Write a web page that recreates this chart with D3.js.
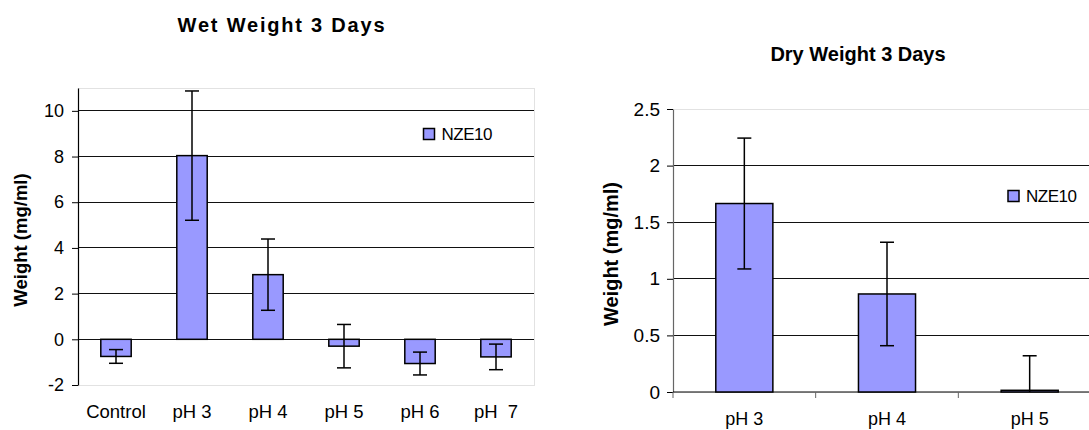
<!DOCTYPE html>
<html>
<head>
<meta charset="utf-8">
<script src="https://cdn.jsdelivr.net/npm/d3@7"></script>
<style>
  html, body { margin: 0; padding: 0; background: #fff; }
  svg { display: block; font-family: "Liberation Sans", Arial, sans-serif; }
  .tick line { stroke: #000; }
  .x-label { white-space: pre; }
</style>
</head>
<body>
<svg id="chart" width="1089" height="430"></svg>
<script>
// data
const seriesName = "NZE10";

const wetCategories = ["Control", "pH 3", "pH 4", "pH 5", "pH 6", "pH  7"];
const wetValues = [-0.75, 8.04, 2.83, -0.30, -1.06, -0.77];
const wetErrors = [0.30, 2.83, 1.56, 0.95, 0.50, 0.56];
const wetTicks = [-2, 0, 2, 4, 6, 8, 10];

const dryCategories = ["pH 3", "pH 4", "pH 5"];
const dryValues = [1.665, 0.866, 0.015];
const dryErrors = [0.578, 0.457, 0.305];
const dryTicks = [0, 0.5, 1, 1.5, 2, 2.5];

const svg = d3.select("#chart");

function drawChart(cfg) {
  const g = svg.append("g");
  const { left, right, top, bottom } = cfg.plot;

  const x = d3.scaleBand()
    .domain(cfg.categories)
    .range([left, right])
    .paddingInner(0.6)
    .paddingOuter(0.3);

  const y = d3.scaleLinear()
    .domain(cfg.domain)
    .range([bottom, top]);

  const clipId = cfg.id + "-clip";
  g.append("clipPath").attr("id", clipId)
    .append("rect")
    .attr("x", left).attr("y", top)
    .attr("width", right - left).attr("height", bottom - top);

  // light plot border
  g.append("rect")
    .attr("x", left).attr("y", top)
    .attr("width", right - left).attr("height", bottom - top)
    .attr("fill", "none")
    .attr("stroke", "#e2e2e2")
    .attr("shape-rendering", "crispEdges");

  // gridlines
  g.append("g")
    .selectAll("line")
    .data(cfg.ticks.filter(t => t > cfg.domain[0] && t < cfg.domain[1]))
    .join("line")
    .attr("x1", left).attr("x2", right)
    .attr("y1", d => y(d)).attr("y2", d => y(d))
    .attr("stroke", "#111")
    .attr("shape-rendering", "crispEdges");

  // y axis
  const yAxis = g.append("g")
    .attr("transform", `translate(${left},0)`)
    .call(d3.axisLeft(y)
      .tickValues(cfg.ticks)
      .tickSize(6)
      .tickSizeOuter(0)
      .tickPadding(cfg.tickPadding)
      .tickFormat(d => String(d)));
  yAxis.select(".domain").attr("stroke", cfg.axisColor).attr("stroke-width", 1.2);
  yAxis.selectAll(".tick line").attr("stroke", cfg.axisColor);
  yAxis.selectAll("text")
    .attr("fill", "#000")
    .style("font-size", cfg.tickFont + "px");

  // x axis (right chart only has a line with ticks at 0)
  if (cfg.xTicks) {
    g.append("line")
      .attr("x1", left).attr("x2", right)
      .attr("y1", y(0)).attr("y2", y(0))
      .attr("stroke", "#000")
      .attr("stroke-width", 1.2);
    const bounds = d3.range(cfg.categories.length + 1).map(i => left + i * x.step());
    g.append("g")
      .selectAll("line")
      .data(bounds)
      .join("line")
      .attr("x1", d => d).attr("x2", d => d)
      .attr("y1", y(0)).attr("y2", y(0) + 6)
      .attr("stroke", "#666");
  }

  // bars
  const data = cfg.categories.map((c, i) => ({ cat: c, value: cfg.values[i], err: cfg.errors[i] }));
  g.append("g")
    .selectAll("rect")
    .data(data)
    .join("rect")
    .attr("x", d => x(d.cat))
    .attr("width", x.bandwidth())
    .attr("y", d => Math.min(y(d.value), y(0)))
    .attr("height", d => Math.abs(y(d.value) - y(0)))
    .attr("fill", "#9999ff")
    .attr("stroke", "#000")
    .attr("stroke-width", 1.5);

  // error bars
  const eb = g.append("g")
    .attr("clip-path", `url(#${clipId})`)
    .attr("stroke", "#000")
    .attr("stroke-width", 1.5)
    .selectAll("g")
    .data(data)
    .join("g");
  eb.append("line")
    .attr("x1", d => x(d.cat) + x.bandwidth() / 2)
    .attr("x2", d => x(d.cat) + x.bandwidth() / 2)
    .attr("y1", d => y(d.value + d.err))
    .attr("y2", d => y(d.value - d.err));
  [1, -1].forEach(s => {
    eb.append("line")
      .attr("x1", d => x(d.cat) + x.bandwidth() / 2 - 7)
      .attr("x2", d => x(d.cat) + x.bandwidth() / 2 + 7)
      .attr("y1", d => y(d.value + s * d.err))
      .attr("y2", d => y(d.value + s * d.err));
  });

  // category labels
  g.append("g")
    .selectAll("text")
    .data(cfg.categories)
    .join("text")
    .attr("class", "x-label")
    .attr("x", d => x(d) + x.bandwidth() / 2)
    .attr("y", cfg.labelY)
    .attr("text-anchor", "middle")
    .style("font-size", cfg.labelFont + "px")
    .text(d => d);

  // title
  g.append("text")
    .attr("x", cfg.title.x)
    .attr("y", cfg.title.y)
    .attr("text-anchor", "middle")
    .style("font-size", "20px")
    .style("font-weight", "bold")
    .style("letter-spacing", cfg.title.spacing + "px")
    .text(cfg.title.text);

  // y axis title
  g.append("text")
    .attr("transform", `translate(${cfg.yTitle.x},${cfg.yTitle.y}) rotate(-90)`)
    .attr("text-anchor", "middle")
    .attr("dy", "0.35em")
    .style("font-size", cfg.yTitle.size + "px")
    .style("font-weight", "bold")
    .text("Weight (mg/ml)");

  // legend
  const lg = g.append("g").attr("transform", `translate(${cfg.legend.x},${cfg.legend.y})`);
  lg.append("rect")
    .attr("width", 11).attr("height", 11)
    .attr("fill", "#9999ff")
    .attr("stroke", "#000")
    .attr("stroke-width", 1.5);
  lg.append("text")
    .attr("x", 18)
    .attr("y", 11)
    .style("font-size", "17px")
    .style("letter-spacing", "-0.5px")
    .text(seriesName);
}

drawChart({
  id: "wet",
  categories: wetCategories,
  values: wetValues,
  errors: wetErrors,
  ticks: wetTicks,
  domain: [-2, 11],
  plot: { left: 78, right: 534, top: 88, bottom: 385 },
  axisColor: "#000",
  tickPadding: 8,
  tickFont: 18,
  labelFont: 18.5,
  labelY: 418,
  xTicks: false,
  title: { text: "Wet Weight 3 Days", x: 282, y: 32, spacing: 1.8 },
  yTitle: { x: 21, y: 240, size: 18.5 },
  legend: { x: 423.5, y: 128.5 }
});

drawChart({
  id: "dry",
  categories: dryCategories,
  values: dryValues,
  errors: dryErrors,
  ticks: dryTicks,
  domain: [0, 2.5],
  plot: { left: 673, right: 1101, top: 109, bottom: 392 },
  axisColor: "#666",
  tickPadding: 7,
  tickFont: 19,
  labelFont: 18,
  labelY: 425,
  xTicks: true,
  title: { text: "Dry Weight 3 Days", x: 858, y: 61, spacing: 0 },
  yTitle: { x: 611, y: 254, size: 20 },
  legend: { x: 1008, y: 190.5 }
});
</script>
</body>
</html>
